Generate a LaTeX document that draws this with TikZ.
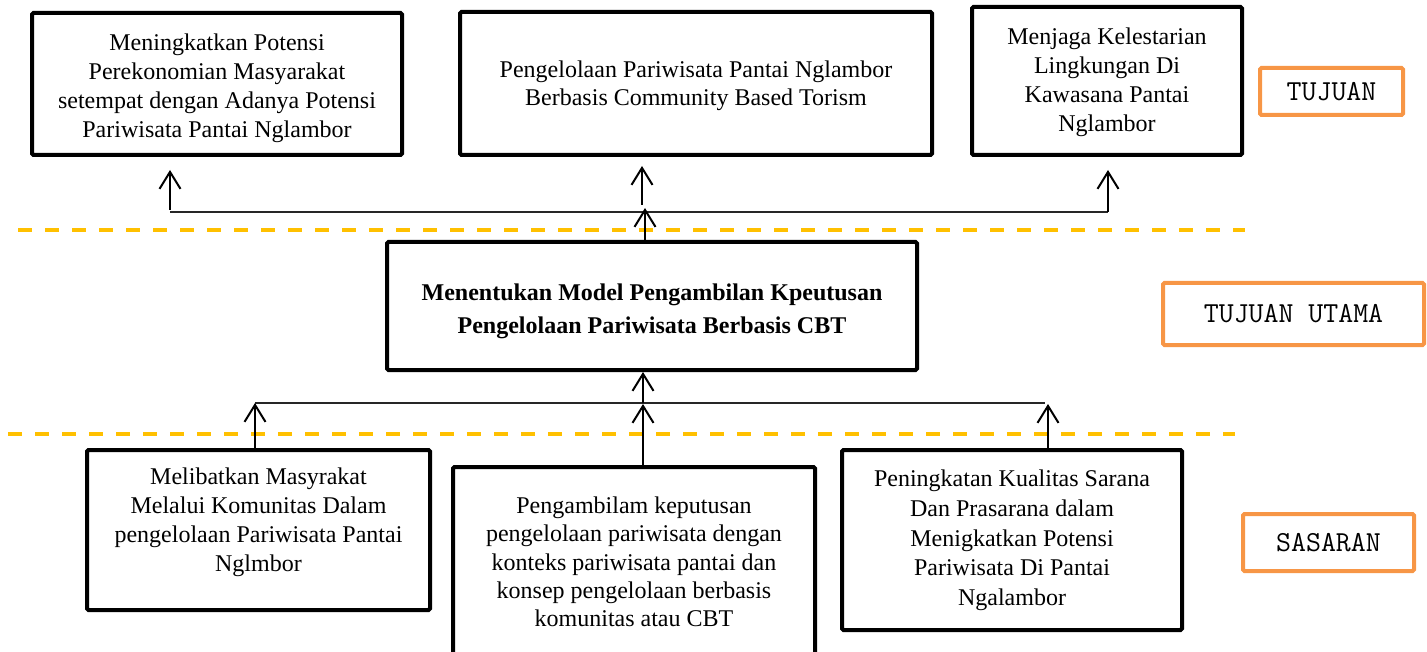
\documentclass[tikz,border=0pt]{standalone}
\usepackage{fontspec}
\setmainfont{Liberation Serif}
\usetikzlibrary{arrows.meta}
\definecolor{dashyellow}{HTML}{FFC000}
\definecolor{labelorange}{HTML}{F79646}
\begin{document}
\begin{tikzpicture}[x=1pt,y=-1pt,
  box/.style={draw=black, line width=4pt, rounded corners=1.5pt, inner sep=0pt},
  txt/.style={align=center, inner sep=0pt, font=\fontsize{24}{29}\selectfont},
  lbl/.style={draw=labelorange, line width=4pt, rounded corners=1.5pt, inner sep=0pt,
              font=\ttfamily\fontsize{29}{32}\selectfont},
  sep/.style={dashyellow, line width=3.5pt, dash pattern=on 14pt off 13pt},
  conn/.style={line width=1.5pt, black!85},
  arr/.style={line width=2pt, -{Straight Barb[length=17pt,width=21pt,line width=2pt]}},
]
\useasboundingbox (0,0) rectangle (1427,652);
\clip (0,0) rectangle (1427,652);

% separators
\draw[sep] (18,230) -- (1245,230);
\draw[sep] (8,434) -- (1235,434);

% top boxes
\node[box, minimum width=370pt, minimum height=142pt] (t1) at (217,84) {};
\node[txt] (t1t) at (217,88) {Meningkatkan Potensi\\Perekonomian Masyarakat\\setempat dengan Adanya Potensi\\Pariwisata Pantai Nglambor};
\node[box, minimum width=472pt, minimum height=143pt] (t2) at (696,83.5) {};
\node[txt, font=\fontsize{24}{28}\selectfont] (t2t) at (696,86) {Pengelolaan Pariwisata Pantai Nglambor\\Berbasis Community Based Torism};
\node[box, minimum width=270pt, minimum height=148pt] (t3) at (1107,81) {};
\node[txt] (t3t) at (1107,82) {Menjaga Kelestarian\\Lingkungan Di\\Kawasana Pantai\\Nglambor};

% main box
\node[box, minimum width=530pt, minimum height=128pt] (m) at (652,306) {};
\node[txt, font=\bfseries\fontsize{24}{33}\selectfont] (mt) at (652,311) {Menentukan Model Pengambilan Kpeutusan\\Pengelolaan Pariwisata Berbasis CBT};

% bottom boxes
\node[box, minimum width=343pt, minimum height=160pt] (b1) at (258.5,530) {};
\node[txt] (b1t) at (258.5,522) {Melibatkan Masyrakat\\Melalui Komunitas Dalam\\pengelolaan Pariwisata Pantai\\Nglmbor};
\node[box, minimum width=362pt, minimum height=233pt] (b2) at (634,583.5) {};
\node[txt, font=\fontsize{24}{28.3}\selectfont] (b2t) at (634,562) {Pengambilam keputusan\\pengelolaan pariwisata dengan\\konteks pariwisata pantai dan\\konsep pengelolaan berbasis\\komunitas atau CBT};
\node[box, minimum width=340pt, minimum height=180pt] (b3) at (1012,540) {};
\node[txt, font=\fontsize{24}{29.7}\selectfont] (b3t) at (1012,540.5) {Peningkatan Kualitas Sarana\\Dan Prasarana dalam\\Menigkatkan Potensi\\Pariwisata Di Pantai\\Ngalambor};

% labels
\node[lbl, minimum width=143pt, minimum height=47pt] (l1) at (1331.5,91.5) {TUJUAN};
\node[lbl, minimum width=261pt, minimum height=62pt] (l2) at (1293.5,314) {TUJUAN UTAMA};
\node[lbl, minimum width=171pt, minimum height=57pt] (l3) at (1328.5,542.5) {SASARAN};

% upper connectors
\coordinate (uL) at (170,212);
\coordinate (uR) at (1108,212);
\coordinate (aL1) at (170,210);
\coordinate (aL2) at (170,170);
\coordinate (aM1) at (642,205);
\coordinate (aM2) at (642,166);
\coordinate (aR2) at (1108,170);
\coordinate (mUp) at (645,208);
\draw[conn] (uL) -- (uR);
\draw[arr] (aL1) -- (aL2);
\draw[arr] (aM1) -- (aM2);
\draw[arr] (uR) -- (aR2);
\draw[arr] (m.north -| mUp) -- (mUp);

% lower connectors
\coordinate (dL) at (255,403);
\coordinate (dR) at (1045,403);
\coordinate (dM) at (643,404);
\coordinate (dR2) at (1048,404);
\coordinate (dM0) at (643,403);
\draw[conn] (dL) -- (dR);
\draw[arr] (b1.north -| dL) -- (dL);
\draw[arr] (b2.north -| dM) -- (dM);
\draw[arr] (b3.north -| dR2) -- (dR2);
\draw[arr] (dM0) -- (m.south -| dM0);
\end{tikzpicture}
\end{document}
